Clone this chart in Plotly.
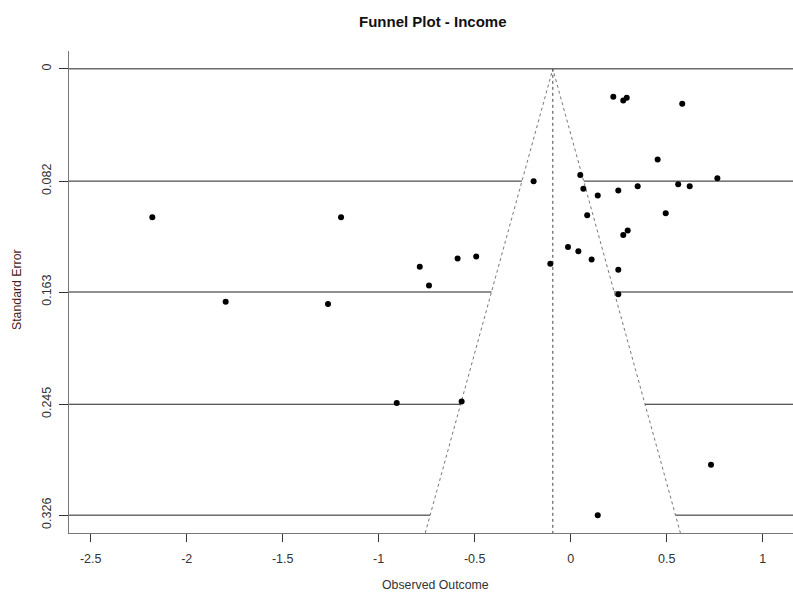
import plotly.graph_objects as go

# Study-level effects (observed outcome) and their standard errors
outcome = [0.222, 0.274, 0.292, 0.581, 0.453, 0.050, -0.193, 0.764, 0.066, 0.141,
           0.248, 0.349, 0.560, 0.620, 0.495, 0.086, 0.297, 0.274, -0.014, 0.040,
           0.109, -0.106, 0.248, 0.248, -0.492, -0.589, -0.786, -0.738, -2.179, -1.196,
           -1.797, -1.264, -0.906, -0.568, 0.731, 0.141]
std_err = [0.0204, 0.0231, 0.0211, 0.0255, 0.0663, 0.0776, 0.0821, 0.0800, 0.0875, 0.0926,
           0.0889, 0.0858, 0.0843, 0.0858, 0.1055, 0.1069, 0.1181, 0.1213, 0.1302, 0.1332,
           0.1392, 0.1424, 0.1468, 0.1647, 0.1370, 0.1385, 0.1446, 0.1582, 0.1084, 0.1084,
           0.1701, 0.1718, 0.2440, 0.2430, 0.2891, 0.3261]

# Pooled estimate and funnel settings
pooled = -0.093
z_crit = 1.96
se_ticks = [0, 0.082, 0.163, 0.245, 0.326]
se_tick_labels = ["0", "0.082", "0.163", "0.245", "0.326"]
x_ticks = [-2.5, -2, -1.5, -1, -0.5, 0, 0.5, 1]
x_tick_labels = ["-2.5", "-2", "-1.5", "-1", "-0.5", "0", "0.5", "1"]

se_max = max(se_ticks)
y_lo, y_hi = -0.04 * se_max, se_max * 1.04
x_lo, x_hi = -2.613, 1.158

font_family = "Liberation Sans, Arial, sans-serif"
text_col = "#333333"

fig = go.Figure()

# White funnel region (hides the reference lines inside it)
fig.add_trace(go.Scatter(
    x=[pooled - z_crit * y_hi, pooled, pooled + z_crit * y_hi],
    y=[y_hi, 0, y_hi],
    mode="lines", fill="toself", fillcolor="white",
    line=dict(width=0), hoverinfo="skip", showlegend=False))

# Funnel edges
fig.add_trace(go.Scatter(
    x=[pooled - z_crit * y_hi, pooled, pooled + z_crit * y_hi],
    y=[y_hi, 0, y_hi],
    mode="lines", line=dict(color="#777777", width=1, dash="dot"),
    hoverinfo="skip", showlegend=False))

# Vertical line at the pooled estimate
fig.add_trace(go.Scatter(
    x=[pooled, pooled], y=[0, y_hi],
    mode="lines", line=dict(color="#444444", width=1, dash="dot"),
    hoverinfo="skip", showlegend=False))

# Studies
fig.add_trace(go.Scatter(
    x=outcome, y=std_err, mode="markers",
    marker=dict(color="black", size=6),
    showlegend=False))

# Horizontal reference lines at the SE ticks
for s in se_ticks:
    fig.add_shape(type="line", xref="paper", yref="y", x0=0, x1=1, y0=s, y1=s,
                  line=dict(color="#222222", width=1), layer="below")

fig.update_layout(
    width=793, height=592,
    margin=dict(l=69, r=0, t=51, b=59),
    paper_bgcolor="white", plot_bgcolor="white",
    font=dict(family=font_family, size=12, color=text_col),
    xaxis=dict(range=[x_lo, x_hi], tickvals=x_ticks, ticktext=x_tick_labels,
               ticks="outside", ticklen=8, tickcolor="#333333",
               ticklabelstandoff=6,
               showline=True, linecolor="#777777", linewidth=1,
               showgrid=False, zeroline=False,
               tickfont=dict(size=12.5, color=text_col)),
    yaxis=dict(range=[y_hi, y_lo], tickvals=se_ticks, ticktext=se_tick_labels,
               ticks="outside", ticklen=9, tickcolor="#333333", tickangle=-90,
               ticklabelstandoff=3,
               showline=True, linecolor="#777777", linewidth=1,
               showgrid=False, zeroline=False,
               tickfont=dict(size=12.5, color=text_col)),
    annotations=[
        dict(text="<b>Funnel Plot - Income</b>", xref="paper", yref="paper",
             x=(433 - 69) / 724, y=1 + (51 - 21) / 482, xanchor="center", yanchor="middle",
             showarrow=False, font=dict(size=15, color="#111111")),
        dict(text="Observed Outcome", xref="paper", yref="paper",
             x=(435 - 69) / 724, y=-(585 - 533) / 482, xanchor="center", yanchor="middle",
             showarrow=False, font=dict(size=12.3, color=text_col)),
        dict(text="Standard Error", xref="paper", yref="paper", textangle=-90,
             x=-(69 - 17) / 724, y=(533 - 290) / 482, xanchor="center", yanchor="middle",
             showarrow=False, font=dict(size=12.3, color="#4a2020")),
    ],
)

fig.write_html("out.html")
